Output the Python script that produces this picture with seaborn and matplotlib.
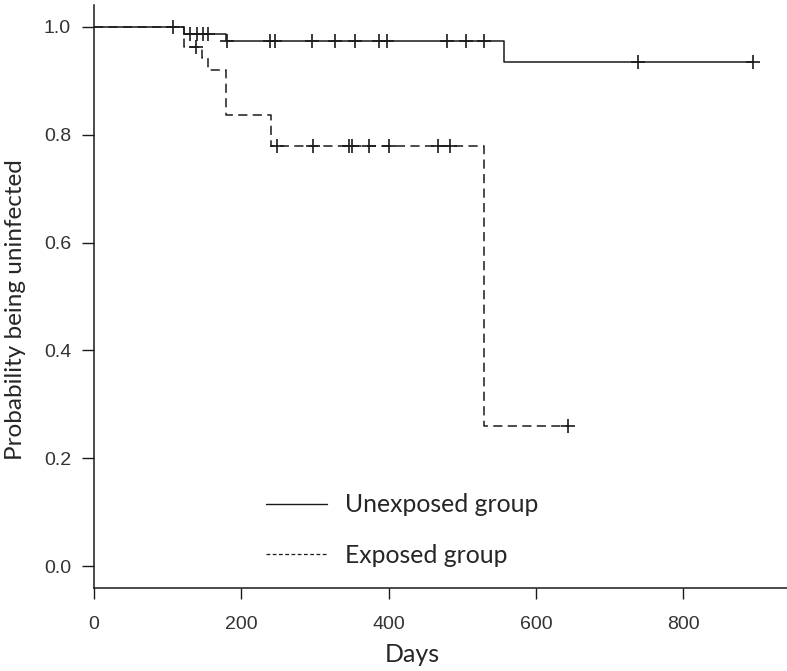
import numpy as np
import pandas as pd
import seaborn as sns
import matplotlib.pyplot as plt
from matplotlib.lines import Line2D

# Kaplan-Meier step curves
unexp_times = [0, 122, 179, 557, 895]
unexp_surv = [1.0, 0.987, 0.974, 0.935, 0.935]
unexp_censor = [107, 130, 140, 148, 155, 181, 239, 246, 296, 327, 355, 387,
                398, 480, 505, 530, 738, 895]

exp_times = [0, 122, 146, 155, 179, 241, 530, 643]
exp_surv = [1.0, 0.963, 0.942, 0.919, 0.837, 0.779, 0.260, 0.260]
exp_censor = [139, 248, 298, 346, 350, 373, 400, 467, 483, 643]

groups = ["Unexposed group", "Exposed group"]
x_ticks = [0, 200, 400, 600, 800]
y_ticks = [0.0, 0.2, 0.4, 0.6, 0.8, 1.0]


def step_value(times, surv, t):
    i = np.searchsorted(times, t, side="right") - 1
    return surv[i]


sns.set_style("ticks")
plt.rcParams["font.family"] = ["Liberation Sans", "DejaVu Sans"]

fig = plt.figure(figsize=(7.87, 6.71), dpi=100)
ax = fig.add_axes([94 / 787, 83 / 671, 1 - 94 / 787, 583 / 671])

curves = pd.DataFrame({
    "Days": unexp_times + exp_times,
    "surv": unexp_surv + exp_surv,
    "group": [groups[0]] * len(unexp_times) + [groups[1]] * len(exp_times),
})
sns.lineplot(data=curves, x="Days", y="surv", hue="group", style="group",
             palette=["#1a1a1a", "#1a1a1a"], dashes={groups[0]: "", groups[1]: (6, 3.5)},
             drawstyle="steps-post", estimator=None, sort=False, lw=1.1,
             legend=False, ax=ax)

cens = pd.DataFrame({
    "Days": unexp_censor + exp_censor,
    "surv": [step_value(unexp_times, unexp_surv, t) for t in unexp_censor]
            + [step_value(exp_times, exp_surv, t) for t in exp_censor],
})
sns.scatterplot(data=cens, x="Days", y="surv", marker="+", s=95, color="#1a1a1a",
                linewidth=1.2, ax=ax, legend=False, zorder=3)

ax.set_xlim(0, 941)
ax.set_ylim(-0.04, 1.04)
ax.set_xticks(x_ticks)
ax.set_yticks(y_ticks)
ax.set_xticklabels([str(v) for v in x_ticks])
ax.set_yticklabels([f"{v:.1f}" for v in y_ticks])
ax.set_xlabel("")
ax.set_ylabel("")
ax.tick_params(axis="x", length=8, width=1, pad=12, labelsize=14, colors="#1a1a1a",
               labelcolor="#333333")
ax.tick_params(axis="y", length=8.5, width=1, pad=8, labelsize=14, colors="#1a1a1a",
               labelcolor="#333333")
sns.despine(ax=ax)
for s in ["left", "bottom"]:
    ax.spines[s].set_color("#1a1a1a")
    ax.spines[s].set_linewidth(1.1)

lab_font = ["Lato", "DejaVu Sans"]
fig.text(16 / 787, 1 - 310 / 671, "Probability being uninfected", rotation=90,
         ha="center", va="center", fontsize=17.5, family=lab_font)
fig.text(412 / 787, 1 - 655 / 671, "Days", ha="center", va="center",
         fontsize=18, family=lab_font)

handles = [Line2D([], [], color="#1a1a1a", lw=1.0),
           Line2D([], [], color="#1a1a1a", lw=0.9, ls=(0, (3, 2)))]
ax.legend(handles, groups, loc="center left", bbox_to_anchor=(266 / 787, 1 - 530 / 671),
          bbox_transform=fig.transFigure, frameon=False, borderpad=0, borderaxespad=0,
          handlelength=2.45, handletextpad=0.75, labelspacing=1.1,
          prop={"family": lab_font, "size": 17.8})

fig.savefig("out.png", dpi=100)
plt.close(fig)
